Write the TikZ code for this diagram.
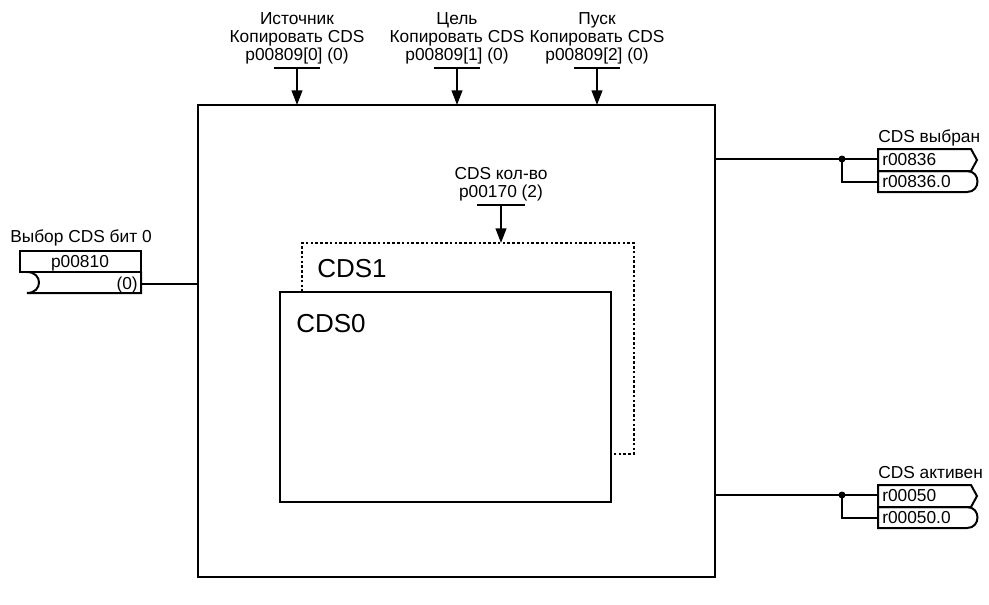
\documentclass[tikz,border=0pt]{standalone}
\usepackage{fontspec}
\setmainfont{Liberation Sans}
\usetikzlibrary{arrows.meta}
\tikzset{
  wire/.style={line width=1.5pt},
  feed/.style={wire, -{Triangle[length=11pt,width=8pt]}},
  lbl/.style={align=center, inner sep=0pt, font=\fontsize{13}{13.8}\selectfont},
  big/.style={inner sep=0pt, font=\fontsize{19.5}{20}\selectfont},
  dotline/.style={line width=1.4pt, dash pattern=on 2pt off 1.6pt},
}
\begin{document}
\begin{tikzpicture}[x=0.75pt, y=-0.75pt, font=\fontsize{13}{13.8}\selectfont]
\useasboundingbox (0,0) rectangle (989,604);
% main block
\coordinate (M1) at (198,105);
\coordinate (M2) at (715,577);
\draw[wire] (M1) rectangle (M2);
% copy parameters on top
\coordinate (S) at (297,68);
\coordinate (T) at (457,68);
\coordinate (G) at (597,68);
\node[lbl, above=2.5pt] (src) at (S) {Источник\\Копировать CDS\\p00809[0] (0)};
\node[lbl, above=2.5pt] (dst) at (T) {Цель\\Копировать CDS\\p00809[1] (0)};
\node[lbl, above=2.5pt] (go) at (G) {Пуск\\Копировать CDS\\p00809[2] (0)};
\draw[wire] (S) +(-23,0) -- +(23,0);
\draw[wire] (T) +(-23,0) -- +(23,0);
\draw[wire] (G) +(-23,0) -- +(23,0);
\draw[feed] (S) -- (S |- M1);
\draw[feed] (T) -- (T |- M1);
\draw[feed] (G) -- (G |- M1);
% data sets
\coordinate (D1) at (280,292);
\coordinate (D2) at (611,502);
\coordinate (N) at (501,205);
\coordinate (P) at (501,243);
\node[lbl, above=2.5pt] (cnt) at (N) {CDS кол-во\\p00170 (2)};
\draw[wire] (N) +(-24,0) -- +(24,0);
\draw[feed] (N) -- (P);
\draw[dotline] (302,292) -- (302,243) -- (634,243) -- (634,454) -- (611,454);
\draw[wire] (D1) rectangle (D2);
\node[big, anchor=base west] (cds1) at (317,277) {CDS1};
\node[big, anchor=base west] (cds0) at (296,332) {CDS0};
% input bit 0
\node[anchor=base west, inner sep=0pt] (sel) at (10,242) {Выбор CDS бит 0};
\draw[wire] (20,272) rectangle (141,251);
\draw[wire] (27,272) .. controls (43,272) and (43,293) .. (27,293) -- (141,293) -- (141,272);
\node[anchor=base, inner sep=0pt] (p810) at (80,267) {p00810};
\node[anchor=base east, inner sep=0pt] (p810v) at (138,289) {(0)};
\coordinate (I) at (141,284);
\draw[wire] (I) -- (I -| M1);
% outputs
\coordinate (A) at (842,159);
\coordinate (B) at (842,495);
\draw[wire] (A -| M2) -- (878,159);
\draw[wire] (A) -- (842,182) -- (878,182);
\fill (A) circle (3.5);
\draw[wire] (878,149) -- (971,149) -- (977,160) -- (971,171) -- (878,171) -- cycle;
\draw[wire] (878,171) -- (967,171) .. controls (981,171) and (981,192) .. (967,192) -- (878,192) -- cycle;
\node[anchor=base west, inner sep=0pt] (sel1) at (878,142) {CDS выбран};
\node[anchor=base west, inner sep=0pt] (r836) at (882,165) {r00836};
\node[anchor=base west, inner sep=0pt] (r836b) at (882,187) {r00836.0};
\draw[wire] (B -| M2) -- (878,495);
\draw[wire] (B) -- (842,518) -- (878,518);
\fill (B) circle (3.5);
\draw[wire] (878,485) -- (971,485) -- (977,496) -- (971,507) -- (878,507) -- cycle;
\draw[wire] (878,507) -- (967,507) .. controls (981,507) and (981,528) .. (967,528) -- (878,528) -- cycle;
\node[anchor=base west, inner sep=0pt] (act) at (878,478) {CDS активен};
\node[anchor=base west, inner sep=0pt] (r50) at (882,501) {r00050};
\node[anchor=base west, inner sep=0pt] (r50b) at (882,523) {r00050.0};
\end{tikzpicture}
\end{document}
